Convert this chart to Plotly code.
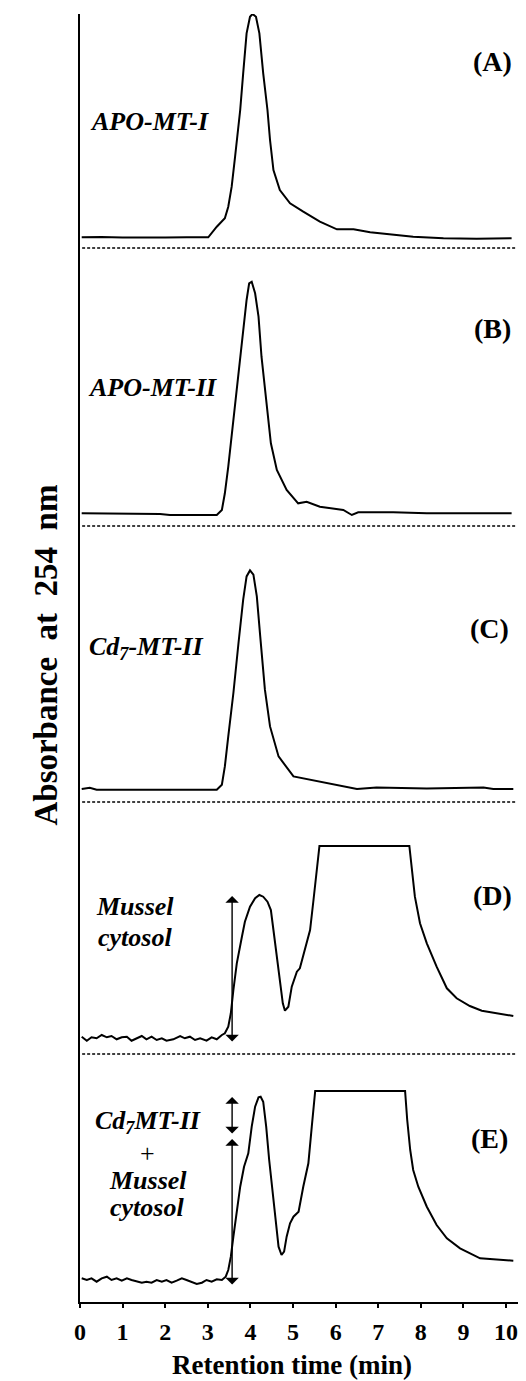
import plotly.graph_objects as go

# ---------------- data (retention time in min, absorbance in arbitrary units above each panel's zero line)
time_A = [0.04, 0.5, 1.0, 1.5, 2.0, 2.5, 3.01, 3.21, 3.40, 3.48, 3.56, 3.64, 3.76, 3.83, 3.91, 3.99, 4.05,
          4.13, 4.21, 4.30, 4.40, 4.46, 4.54, 4.69, 4.93, 5.24, 5.63, 6.03, 6.42, 6.81, 7.35, 7.82, 8.53, 9.31, 10.13]
abs_A = [1.07, 1.10, 1.04, 1.08, 1.05, 1.07, 1.07, 2.13, 2.97, 4.13, 6.13, 9.13, 13.8, 17.47, 21.47, 23.13, 23.4,
         23.13, 21.47, 17.47, 13.8, 10.8, 7.8, 5.8, 4.47, 3.63, 2.63, 1.87, 1.87, 1.57, 1.3, 1.13, 0.97, 0.93, 0.97]

time_B = [0.04, 1.88, 2.11, 3.21, 3.33, 3.40, 3.48, 3.60, 3.72, 3.83, 3.91, 3.97, 4.03, 4.11, 4.19, 4.26, 4.38,
          4.48, 4.62, 4.85, 5.12, 5.32, 5.63, 6.18, 6.38, 6.53, 7.35, 8.14, 10.13]
abs_B = [1.27, 1.2, 1.1, 1.1, 1.6, 3.27, 5.93, 10.6, 15.27, 19.6, 22.6, 24.27, 24.43, 23.27, 20.93, 16.93, 11.93,
         8.27, 5.6, 3.6, 2.27, 2.43, 1.93, 1.6, 1.1, 1.37, 1.37, 1.27, 1.27]

time_C = [0.04, 0.23, 0.39, 1.49, 3.21, 3.33, 3.40, 3.48, 3.60, 3.72, 3.83, 3.91, 3.99, 4.07, 4.15, 4.23, 4.34,
          4.46, 4.66, 5.01, 5.63, 6.26, 6.50, 6.96, 8.14, 9.47, 9.70, 10.17]
abs_C = [1.3, 1.43, 1.23, 1.23, 1.23, 1.73, 3.56, 6.56, 10.9, 15.9, 20.23, 22.56, 23.16, 22.73, 20.56, 16.56, 11.23,
         7.56, 4.56, 2.56, 2.06, 1.56, 1.3, 1.46, 1.36, 1.46, 1.3, 1.3]

time_D = [0.04, 0.16, 0.27, 0.39, 0.51, 0.63, 0.74, 0.86, 0.98, 1.10, 1.21, 1.33, 1.45, 1.56, 1.68, 1.80, 1.92,
          2.03, 2.19, 2.35, 2.46, 2.58, 2.70, 2.82, 2.97, 3.09, 3.21, 3.33, 3.40,
          3.48, 3.54, 3.60, 3.68, 3.80, 3.87, 3.99, 4.11, 4.21, 4.30, 4.40, 4.48, 4.54, 4.62, 4.69, 4.76, 4.81,
          4.89, 4.97, 5.09, 5.16, 5.28, 5.40, 5.48, 5.56, 5.62,
          7.73, 7.79, 7.86, 7.98, 8.14, 8.37, 8.61, 8.84, 9.15, 9.43, 9.70, 10.17]
abs_D = [1.73, 1.33, 1.67, 1.57, 1.9, 1.67, 1.8, 1.47, 1.67, 1.73, 1.33, 1.57, 1.8, 1.47, 1.73, 1.4, 1.57,
         1.33, 1.47, 1.8, 1.57, 1.73, 1.4, 1.57, 1.33, 1.67, 1.47, 1.9, 2.07,
         2.73, 4.07, 6.4, 9.07, 11.73, 13.23, 14.73, 15.57, 15.9, 15.73, 15.23, 14.4, 12.4, 9.73, 7.07, 5.07, 4.33,
         4.73, 6.73, 8.23, 8.57, 10.4, 12.4, 15.4, 18.73, 20.8,
         20.8, 18.73, 15.73, 13.07, 11.07, 8.73, 6.57, 5.57, 4.8, 4.33, 4.13, 3.8]

time_E = [0.04, 0.16, 0.27, 0.39, 0.51, 0.63, 0.74, 0.86, 0.98, 1.10, 1.21, 1.33, 1.45, 1.56, 1.68, 1.80, 1.92,
          2.03, 2.15, 2.27, 2.39, 2.50, 2.62, 2.74, 2.86, 2.97, 3.09, 3.21, 3.33, 3.42,
          3.48, 3.54, 3.60, 3.68, 3.76, 3.85, 3.95, 4.03, 4.11, 4.19, 4.24, 4.30, 4.37, 4.44, 4.52, 4.60, 4.66,
          4.73, 4.79, 4.85, 4.93, 5.01, 5.13, 5.24, 5.36, 5.44, 5.52,
          7.63, 7.68, 7.75, 7.82, 7.94, 8.14, 8.37, 8.61, 8.92, 9.39, 9.70, 10.17]
abs_E = [2.37, 2.2, 2.37, 2.03, 2.37, 2.53, 2.2, 2.37, 2.13, 2.37, 2.2, 2.03, 1.93, 2.03, 1.93, 2.2, 2.03,
         2.2, 1.93, 2.13, 2.37, 2.2, 2.03, 1.8, 1.93, 2.2, 2.03, 2.27, 2.2, 2.53,
         3.2, 4.53, 6.53, 9.2, 11.53, 13.53, 14.87, 17.53, 19.53, 20.47, 20.53, 20.03, 17.53, 14.2, 10.87, 7.53, 5.53,
         4.7, 5.03, 6.53, 7.87, 8.53, 9.03, 11.53, 13.87, 17.53, 21.1,
         21.1, 18.2, 15.2, 13.2, 11.53, 9.53, 7.7, 6.37, 5.37, 4.37, 4.27, 4.13]

panel_ids = ["A", "B", "C", "D", "E"]
panel_times = [time_A, time_B, time_C, time_D, time_E]
panel_abs = [abs_A, abs_B, abs_C, abs_D, abs_E]
panel_offsets = [105.4, 77.6, 50.0, 24.8, 0.0]
panel_dashed = [True, True, True, True, False]

x_tick_values = [0, 1, 2, 3, 4, 5, 6, 7, 8, 9, 10]
x_title = "Retention time (min)"
y_title = "Absorbance  at  254  nm"

# ---------------- figure
SERIF = "Liberation Serif, Times New Roman, serif"
fig = go.Figure()

for pid, t, a, off in zip(panel_ids, panel_times, panel_abs, panel_offsets):
    fig.add_trace(go.Scatter(x=t, y=[v + off for v in a], mode="lines", name=pid,
                             line=dict(color="black", width=2), hoverinfo="skip"))

for off, dashed in zip(panel_offsets, panel_dashed):
    if dashed:
        fig.add_shape(type="line", xref="x", yref="y", x0=0.05, x1=10.22, y0=off, y1=off,
                      line=dict(color="black", width=1.4, dash="3px,2px"))

ann = []
panel_label_pos = [(9.69, 124.1), (9.69, 97.4), (9.62, 67.4), (9.69, 40.7), (9.62, 16.4)]
for pid, (x, y) in zip(panel_ids, panel_label_pos):
    ann.append(dict(x=x, y=y, xref="x", yref="y", text=f"<b>({pid})</b>", showarrow=False,
                    font=dict(family=SERIF, size=28, color="black")))

sample_labels = [
    ("APO-MT-I", 1.62, 118.1),
    ("APO-MT-II", 1.71, 91.5),
    ("Cd<sub>7</sub>-MT-II", 1.55, 65.4),
    ("Mussel", 1.29, 39.6),
    ("cytosol", 1.29, 36.5),
    ("Cd<sub>7</sub>MT-II", 1.60, 18.0),
    ("+", 1.58, 14.9),
    ("Mussel", 1.60, 12.2),
    ("cytosol", 1.58, 9.5),
]
for txt, x, y in sample_labels:
    t = "+" if txt == "+" else f"<b><i>{txt}</i></b>"
    ann.append(dict(x=x, y=y, xref="x", yref="y", text=t, showarrow=False,
                    font=dict(family=SERIF, size=26, color="black")))

# double-headed arrows (time, top, bottom)
arrows = [(3.57, 40.6, 25.9), (3.57, 20.5, 16.7), (3.57, 16.3, 1.6)]
for x, ytop, ybot in arrows:
    ann.append(dict(x=x, y=ytop, ax=x, ay=ybot, xref="x", yref="y", axref="x", ayref="y",
                    text="", showarrow=True, arrowhead=1, startarrowhead=1, arrowside="end+start",
                    arrowsize=1.6, startarrowsize=1.6, arrowwidth=1.4, arrowcolor="black",
                    standoff=0, startstandoff=0))

ann.append(dict(x=0.484, y=-0.049, xref="paper", yref="paper", text=f"<b>{x_title}</b>",
                showarrow=False, yanchor="middle", font=dict(family=SERIF, size=27, color="black")))
ann.append(dict(x=-0.123, y=0.502, xref="paper", yref="paper", text=f"<b>{y_title}</b>",
                showarrow=False, textangle=-90, font=dict(family=SERIF, size=33, color="black")))

fig.update_layout(
    width=526, height=1381,
    margin=dict(l=80, r=8, t=14, b=79),
    paper_bgcolor="white", plot_bgcolor="white",
    showlegend=False,
    annotations=ann,
    xaxis=dict(range=[0, 10.28], tickvals=x_tick_values, ticktext=[str(v) for v in x_tick_values],
               ticks="outside", ticklen=4, tickwidth=2, tickcolor="black",
               showline=True, linewidth=2, linecolor="black", showgrid=False, zeroline=False,
               tickfont=dict(family=SERIF, size=24, color="black", weight="bold"),
               ticklabelstandoff=3, fixedrange=True),
    yaxis=dict(range=[0, 128.8], showline=True, linewidth=2, linecolor="black", showgrid=False,
               zeroline=False, showticklabels=False, ticks="", fixedrange=True),
)

fig.write_html("out.html", config={"displayModeBar": False},
               post_script="document.body.style.margin='0';document.body.style.overflow='hidden';")
